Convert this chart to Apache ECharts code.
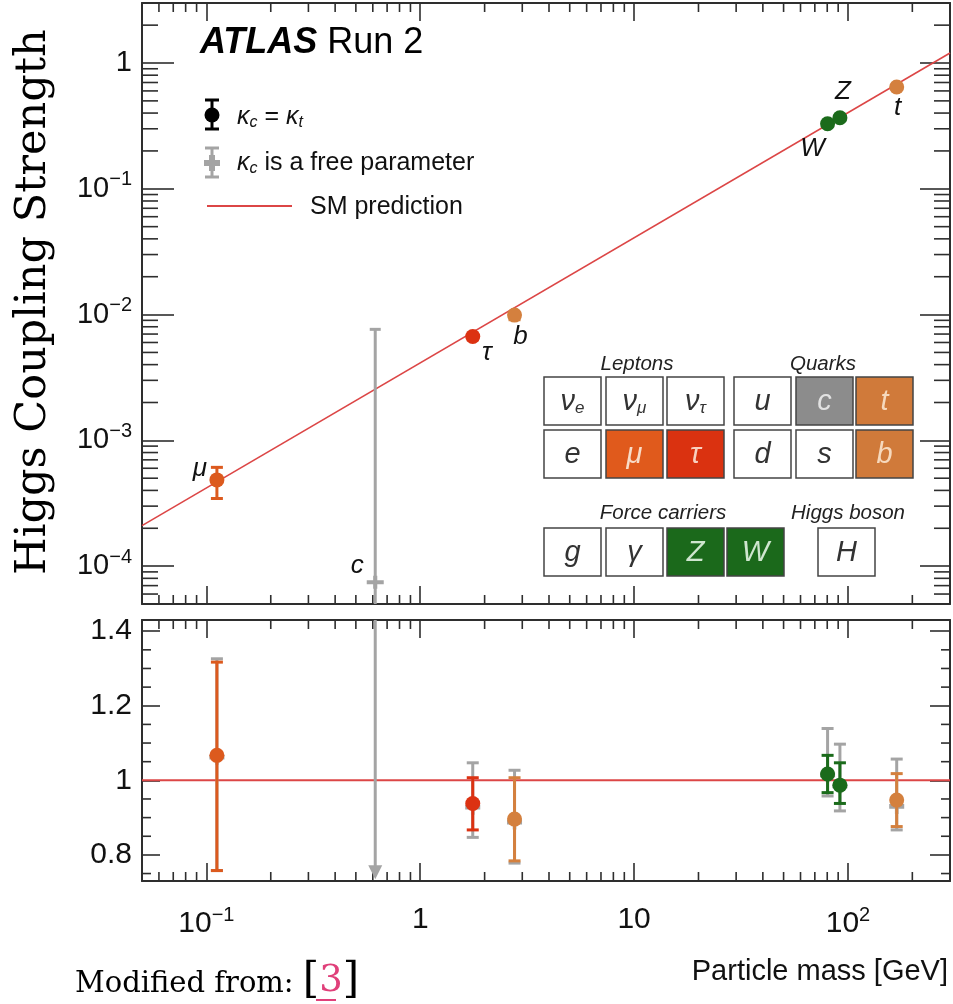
<!DOCTYPE html>
<html><head><meta charset="utf-8">
<script src="https://cdn.jsdelivr.net/npm/echarts@6/dist/echarts.min.js"></script>
<style>html,body{margin:0;padding:0;background:#fff}#c{width:953px;height:1004px}</style>
</head><body><div id="c"></div>
<script>
// ================= DATA =================
const particles   = ['μ', 'τ', 'b', 'W', 'Z', 't'];
const massGeV     = [0.112, 1.76, 2.76, 80.3, 91.7, 169];
// top panel: coupling strength (kappa-scaled m/v)
const coupling    = [4.85e-4, 6.7e-3, 9.9e-3, 0.329, 0.367, 0.645];
const couplingLo  = [3.45e-4, 6.3e-3, 9.1e-3, 0.322, 0.357, 0.625];
const couplingHi  = [6.1e-4,  7.0e-3, 1.03e-2, 0.335, 0.375, 0.665];
// bottom panel: ratio to SM (kappa_c = kappa_t)
const ratio       = [1.067, 0.938, 0.896, 1.017, 0.987, 0.947];
const ratioLo     = [0.758, 0.867, 0.784, 0.967, 0.938, 0.876];
const ratioHi     = [1.317, 1.007, 1.007, 1.067, 1.047, 1.018];
// bottom panel: ratio, kappa_c free
const ratioFree   = [1.062, 0.928, 0.888, 1.015, 0.985, 0.930];
const ratioFreeLo = [0.758, 0.847, 0.778, 0.958, 0.918, 0.867];
const ratioFreeHi = [1.326, 1.047, 1.027, 1.139, 1.097, 1.057];
// charm quark (kappa_c free parameter)
const charmName       = 'c';
const charmMass       = 0.616;
const charmCoupling   = 7.44e-5;
const charmCouplingLo = 1e-7;     // off scale (below frame)
const charmCouplingHi = 7.63e-3;
const charmRatioLo    = 0.735;    // arrow tip
const charmRatioHi    = 50;       // off scale (above frame)
// SM prediction line
const smMass      = [0.05, 300];
const smCoupling  = [2.1e-4, 1.2];
const smRatio     = [1, 1];
// axes
const xRange      = [0.05, 300];
const yTopRange   = [5e-5, 3];
const yBotRange   = [0.73, 1.43];
const xMinorTicks = [0.06,0.07,0.08,0.09,0.2,0.3,0.4,0.5,0.6,0.7,0.8,0.9,2,3,4,5,6,7,8,9,20,30,40,50,60,70,80,90,200];
const yTopMinorTicks = [6e-5,7e-5,8e-5,9e-5,2e-4,3e-4,4e-4,5e-4,6e-4,7e-4,8e-4,9e-4,2e-3,3e-3,4e-3,5e-3,6e-3,7e-3,8e-3,9e-3,0.02,0.03,0.04,0.05,0.06,0.07,0.08,0.09,0.2,0.3,0.4,0.5,0.6,0.7,0.8,0.9,2];
const yBotMinorTicks = [0.75,0.85,0.9,0.95,1.05,1.1,1.15,1.25,1.3,1.35];

// ================= STYLE =================
const particleColors = ['#dc5a1e', '#dc3212', '#d4803e', '#1b6b1b', '#1b6b1b', '#d4803e'];
const labelOffsets   = [[-17,-11], [14,16], [6,22], [-15,25], [3,-26], [1,21]];
const GRAY = '#a4a4a4';
const RED  = '#dc4646';
const AX   = '#2e2e2e';
const FONT = '"Liberation Sans", Arial, sans-serif';
const SERIF = '"DejaVu Serif", serif';
const PLUS = 'path://M0,34 L100,34 L100,66 L0,66 Z M38,0 L62,0 L62,100 L38,100 Z';

const supRich = {sup: {fontSize: 20, fontFamily: FONT, color: '#111', padding: [0,0,18,0]}};
function powLabel(v) {
  const l = Math.log10(v), e = Math.round(l);
  if (Math.abs(l - e) > 1e-6) return '';
  if (e === 0) return '1';
  if (e === 1) return '10';
  return '10{sup|' + (e < 0 ? '\u2212' + (-e) : e) + '}';
}
function ratioLabel(v) {
  if (Math.abs(v - 1) < 1e-9) return '1';
  if (Math.abs(v * 5 - Math.round(v * 5)) < 1e-6) return v.toFixed(1);
  return '';
}

function axisBase(extra) {
  return Object.assign({
    axisLine: {show: true, onZero: false, lineStyle: {color: AX, width: 2}},
    splitLine: {show: false},
    minorTick: {show: false},
    splitArea: {show: false}
  }, extra);
}
function xAxisDef(gridIndex, position, showLabel) {
  return axisBase({
    type: 'log', logBase: 10, gridIndex, position, min: xRange[0], max: xRange[1],
    axisTick: {show: true, inside: true, length: 18, lineStyle: {color: AX, width: 1.6}},
    axisLabel: {show: showLabel, formatter: powLabel, margin: 24, fontSize: 30, color: '#111',
      fontFamily: FONT, showMinLabel: false, showMaxLabel: false, rich: supRich}
  });
}

// minor tick renderers (through the axis scales)
function xMinorRender(len) {
  return function (params, api) {
    const cs = params.coordSys;
    const x = api.coord([api.value(0), api.value(1)])[0];
    const b = cs.y + cs.height, t = cs.y;
    const st = {stroke: AX, lineWidth: 1.6};
    return {type: 'group', children: [
      {type: 'line', shape: {x1: x, y1: b, x2: x, y2: b - len}, style: st},
      {type: 'line', shape: {x1: x, y1: t, x2: x, y2: t + len}, style: st}
    ]};
  };
}
function yMinorRender(len) {
  return function (params, api) {
    const cs = params.coordSys;
    const y = api.coord([api.value(0), api.value(1)])[1];
    const l = cs.x, r = cs.x + cs.width;
    const st = {stroke: AX, lineWidth: 1.6};
    return {type: 'group', children: [
      {type: 'line', shape: {x1: l, y1: y, x2: l + len, y2: y}, style: st},
      {type: 'line', shape: {x1: r, y1: y, x2: r - len, y2: y}, style: st}
    ]};
  };
}
// error bars: value = [x, y, lo, hi]
function errorBarRender(colors, capW, lw, arrowAtLo) {
  return function (params, api) {
    const cs = params.coordSys;
    const x = api.coord([api.value(0), api.value(1)])[0];
    let yLo = api.coord([api.value(0), api.value(2)])[1];
    let yHi = api.coord([api.value(0), api.value(3)])[1];
    const bottom = cs.y + cs.height, top = cs.y;
    const loIn = yLo <= bottom + 0.5, hiIn = yHi >= top - 0.5;
    yLo = Math.min(yLo, bottom); yHi = Math.max(yHi, top);
    const color = colors[params.dataIndex % colors.length];
    const st = {stroke: color, lineWidth: lw};
    const ch = [];
    if (arrowAtLo) {
      ch.push({type: 'line', shape: {x1: x, y1: yHi, x2: x, y2: yLo - 12}, style: st});
      ch.push({type: 'polygon', shape: {points: [[x - 7, yLo - 14], [x + 7, yLo - 14], [x, yLo]]}, style: {fill: color}});
    } else {
      ch.push({type: 'line', shape: {x1: x, y1: yLo, x2: x, y2: yHi}, style: st});
      if (loIn) ch.push({type: 'line', shape: {x1: x - capW / 2, y1: yLo, x2: x + capW / 2, y2: yLo}, style: st});
      if (hiIn) ch.push({type: 'line', shape: {x1: x - capW / 2, y1: yHi, x2: x + capW / 2, y2: yHi}, style: st});
    }
    return {type: 'group', children: ch};
  };
}

const idx = particles.map((_, i) => i);
const series = [
  // minor ticks
  {type: 'custom', xAxisIndex: 0, yAxisIndex: 0, silent: true, clip: false, z: 1,
   renderItem: xMinorRender(9), data: xMinorTicks.map(v => [v, 1])},
  {type: 'custom', xAxisIndex: 0, yAxisIndex: 0, silent: true, clip: false, z: 1,
   renderItem: yMinorRender(16), data: yTopMinorTicks.map(v => [1, v])},
  {type: 'custom', xAxisIndex: 2, yAxisIndex: 2, silent: true, clip: false, z: 1,
   renderItem: xMinorRender(9), data: xMinorTicks.map(v => [v, 1])},
  {type: 'custom', xAxisIndex: 2, yAxisIndex: 2, silent: true, clip: false, z: 1,
   renderItem: yMinorRender(9), data: yBotMinorTicks.map(v => [1, v])},
  // SM prediction
  {type: 'line', name: 'SM prediction', xAxisIndex: 0, yAxisIndex: 0, symbol: 'none', z: 2,
   lineStyle: {color: RED, width: 1.6}, data: smMass.map((m, i) => [m, smCoupling[i]])},
  {type: 'line', xAxisIndex: 2, yAxisIndex: 2, symbol: 'none', z: 2,
   lineStyle: {color: RED, width: 2}, data: smMass.map((m, i) => [m, smRatio[i]])},
  // charm (kappa_c free) top
  {type: 'custom', xAxisIndex: 0, yAxisIndex: 0, silent: true, clip: false, z: 3,
   renderItem: errorBarRender([GRAY], 11, 3, false),
   data: [[charmMass, charmCoupling, charmCouplingLo, charmCouplingHi]]},
  {type: 'scatter', xAxisIndex: 0, yAxisIndex: 0, symbol: PLUS, symbolSize: [17, 13], z: 4,
   itemStyle: {color: GRAY, opacity: 1},
   label: {show: true, formatter: charmName, position: 'inside', offset: [-18, -17], fontSize: 26,
     fontStyle: 'italic', fontFamily: FONT, color: '#111'},
   data: [[charmMass, charmCoupling]]},
  // charm bottom arrow
  {type: 'custom', xAxisIndex: 2, yAxisIndex: 2, silent: true, clip: false, z: 3,
   renderItem: errorBarRender([GRAY], 11, 3, true),
   data: [[charmMass, 1, charmRatioLo, charmRatioHi]]},
  // top panel colored points
  {type: 'custom', xAxisIndex: 0, yAxisIndex: 0, silent: true, z: 5,
   renderItem: errorBarRender(particleColors, 12, 3, false),
   data: idx.map(i => [massGeV[i], coupling[i], couplingLo[i], couplingHi[i]])},
  {type: 'scatter', xAxisIndex: 0, yAxisIndex: 0, symbol: 'circle', symbolSize: 15, z: 6,
   data: idx.map(i => ({value: [massGeV[i], coupling[i]], itemStyle: {color: particleColors[i], opacity: 1},
     label: {show: true, formatter: particles[i], position: 'inside', offset: labelOffsets[i],
       fontSize: 26, fontStyle: 'italic', fontFamily: FONT, color: '#111'}}))},
  // bottom panel: kappa_c free (gray)
  {type: 'custom', xAxisIndex: 2, yAxisIndex: 2, silent: true, z: 3,
   renderItem: errorBarRender([GRAY], 12, 3, false),
   data: idx.map(i => [massGeV[i], ratioFree[i], ratioFreeLo[i], ratioFreeHi[i]])},
  {type: 'scatter', xAxisIndex: 2, yAxisIndex: 2, symbol: PLUS, symbolSize: 15, z: 4,
   itemStyle: {color: GRAY, opacity: 1}, data: idx.map(i => [massGeV[i], ratioFree[i]])},
  // bottom panel: kappa_c = kappa_t (colored)
  {type: 'custom', xAxisIndex: 2, yAxisIndex: 2, silent: true, z: 5,
   renderItem: errorBarRender(particleColors, 12, 3, false),
   data: idx.map(i => [massGeV[i], ratio[i], ratioLo[i], ratioHi[i]])},
  {type: 'scatter', xAxisIndex: 2, yAxisIndex: 2, symbol: 'circle', symbolSize: 15, z: 6,
   data: idx.map(i => ({value: [massGeV[i], ratio[i]], itemStyle: {color: particleColors[i], opacity: 1}}))}
];

// ================= decorations (legend, particle table, texts) =================
const tableLayout = {
  w: 57, h: 48,
  cells: [
    ['ν{s|e}', 544, 377, '#fff', '#333'], ['ν{s|μ}', 606, 377, '#fff', '#333'], ['ν{s|τ}', 667, 377, '#fff', '#333'],
    ['u', 734, 377, '#fff', '#333'], ['c', 796, 377, '#8c8c8c', '#e2e2e2'], ['t', 856, 377, '#d07a3a', '#f6d9bd'],
    ['e', 544, 430, '#fff', '#333'], ['μ', 606, 430, '#e05a1c', '#f8dcc8'], ['τ', 667, 430, '#da3210', '#f8d0c0'],
    ['d', 734, 430, '#fff', '#333'], ['s', 796, 430, '#fff', '#333'], ['b', 856, 430, '#d07a3a', '#f6d9bd'],
    ['g', 544, 528, '#fff', '#333'], ['γ', 606, 528, '#fff', '#333'], ['Z', 667, 528, '#1b691b', '#cfe6cf'],
    ['W', 727, 528, '#1b691b', '#cfe6cf'], ['H', 818, 528, '#fff', '#333']
  ],
  headers: [['Leptons', 637, 364], ['Quarks', 823, 364], ['Force carriers', 663, 513], ['Higgs boson', 848, 513]]
};
const graphics = [];
tableLayout.cells.forEach(c => {
  graphics.push({type: 'rect', shape: {x: c[1], y: c[2], width: tableLayout.w, height: tableLayout.h},
    style: {fill: c[3], stroke: '#444', lineWidth: 1.5}, z: 10});
  graphics.push({type: 'text', x: c[1] + tableLayout.w / 2, y: c[2] + tableLayout.h / 2 + 1, z: 11,
    style: {text: c[0], fill: c[4], fontSize: 29, fontStyle: 'italic', fontFamily: FONT,
      align: 'center', verticalAlign: 'middle',
      rich: {s: {fontSize: 17, fontStyle: 'italic', fontFamily: FONT, fill: c[4], padding: [13, 0, 0, 0]}}}});
});
tableLayout.headers.forEach(h => {
  graphics.push({type: 'text', x: h[1], y: h[2], z: 11,
    style: {text: h[0], fill: '#222', fontSize: 20.5, fontStyle: 'italic', fontFamily: FONT,
      align: 'center', verticalAlign: 'middle'}});
});
// ATLAS label
graphics.push({type: 'text', x: 200, y: 43, z: 11,
  style: {text: '{b|ATLAS} Run 2', fill: '#000', fontSize: 36, fontFamily: FONT, verticalAlign: 'middle',
    rich: {b: {fontSize: 36, fontFamily: FONT, fontWeight: 'bold', fontStyle: 'italic', fill: '#000'}}}});
// legend
const kRich = {s: {fontSize: 16, fontStyle: 'italic', fontFamily: FONT, fill: '#111', padding: [12, 0, 0, 0]},
               k: {fontSize: 25, fontStyle: 'italic', fontFamily: FONT, fill: '#111'}};
graphics.push(
  {type: 'line', shape: {x1: 212, y1: 100, x2: 212, y2: 129}, style: {stroke: '#000', lineWidth: 3}, z: 11},
  {type: 'line', shape: {x1: 205, y1: 100, x2: 219, y2: 100}, style: {stroke: '#000', lineWidth: 3}, z: 11},
  {type: 'line', shape: {x1: 205, y1: 129, x2: 219, y2: 129}, style: {stroke: '#000', lineWidth: 3}, z: 11},
  {type: 'circle', shape: {cx: 212, cy: 115, r: 7.5}, style: {fill: '#000'}, z: 11},
  {type: 'text', x: 237, y: 117, z: 11, style: {text: '{k|κ}{s|c} = {k|κ}{s|t}', fill: '#111', fontSize: 25,
    fontFamily: FONT, verticalAlign: 'middle', rich: kRich}},
  {type: 'line', shape: {x1: 212, y1: 148, x2: 212, y2: 177}, style: {stroke: GRAY, lineWidth: 3}, z: 11},
  {type: 'line', shape: {x1: 205, y1: 148, x2: 219, y2: 148}, style: {stroke: GRAY, lineWidth: 3}, z: 11},
  {type: 'line', shape: {x1: 205, y1: 177, x2: 219, y2: 177}, style: {stroke: GRAY, lineWidth: 3}, z: 11},
  {type: 'rect', shape: {x: 204, y: 160, width: 16, height: 6}, style: {fill: GRAY}, z: 11},
  {type: 'rect', shape: {x: 209, y: 155, width: 6, height: 16}, style: {fill: GRAY}, z: 11},
  {type: 'text', x: 237, y: 163, z: 11, style: {text: '{k|κ}{s|c} is a free parameter', fill: '#111', fontSize: 25,
    fontFamily: FONT, verticalAlign: 'middle', rich: kRich}},
  {type: 'line', shape: {x1: 207, y1: 206, x2: 292, y2: 206}, style: {stroke: RED, lineWidth: 1.8}, z: 11},
  {type: 'text', x: 310, y: 207, z: 11, style: {text: 'SM prediction', fill: '#111', fontSize: 25,
    fontFamily: FONT, verticalAlign: 'middle'}}
);
// axis titles & source
graphics.push(
  {type: 'text', x: 34, y: 302, rotation: Math.PI / 2, z: 11,
   style: {text: 'Higgs Coupling Strength', fill: '#000', fontSize: 43, fontFamily: SERIF,
     align: 'center', verticalAlign: 'middle'}},
  {type: 'text', x: 948, y: 972, z: 11,
   style: {text: 'Particle mass [GeV]', fill: '#111', fontSize: 29, fontFamily: FONT,
     align: 'right', verticalAlign: 'middle'}},
  {type: 'text', x: 75, y: 984, z: 11,
   style: {text: 'Modified from: {br|[}{n|3}{br|]}', fill: '#000', fontSize: 29, fontFamily: SERIF,
     verticalAlign: 'middle',
     rich: {br: {fontSize: 42, fontFamily: SERIF, fill: '#000', padding: [0, 0, 6, 0]},
            n: {fontSize: 37, fontFamily: SERIF, fill: '#e0407a', padding: [0, 0, 6, 0]}}}},
  {type: 'line', shape: {x1: 316, y1: 1000, x2: 336, y2: 1000}, style: {stroke: '#e0407a', lineWidth: 2}, z: 11}
);

const option = {
  animation: false,
  backgroundColor: '#fff',
  grid: [
    {left: 142, top: 3, width: 808, height: 601, containLabel: false},
    {left: 142, top: 620, width: 808, height: 261, containLabel: false}
  ],
  xAxis: [
    xAxisDef(0, 'bottom', false),
    xAxisDef(0, 'top', false),
    xAxisDef(1, 'bottom', true),
    xAxisDef(1, 'top', false)
  ],
  yAxis: [
    axisBase({type: 'log', logBase: 10, gridIndex: 0, position: 'left', min: yTopRange[0], max: yTopRange[1],
      axisTick: {show: true, inside: true, length: 32, lineStyle: {color: AX, width: 1.6}},
      axisLabel: {show: true, formatter: powLabel, margin: 10, fontSize: 29, color: '#111', fontFamily: FONT,
        showMinLabel: false, showMaxLabel: false, rich: supRich}}),
    axisBase({type: 'log', logBase: 10, gridIndex: 0, position: 'right', min: yTopRange[0], max: yTopRange[1],
      axisTick: {show: true, inside: true, length: 30, lineStyle: {color: AX, width: 1.6}},
      axisLabel: {show: false}}),
    axisBase({type: 'value', gridIndex: 1, position: 'left', min: yBotRange[0], max: yBotRange[1], splitNumber: 4,
      axisTick: {show: true, inside: true, length: 18, lineStyle: {color: AX, width: 1.6}},
      axisLabel: {show: true, formatter: ratioLabel, margin: 10, fontSize: 30, color: '#111', fontFamily: FONT,
        showMinLabel: false, showMaxLabel: false}}),
    axisBase({type: 'value', gridIndex: 1, position: 'right', min: yBotRange[0], max: yBotRange[1], splitNumber: 4,
      axisTick: {show: true, inside: true, length: 20, lineStyle: {color: AX, width: 1.6}},
      axisLabel: {show: false}})
  ],
  series: series,
  graphic: {elements: graphics}
};
const chart = echarts.init(document.getElementById('c'));
chart.setOption(option);
</script></body></html>
